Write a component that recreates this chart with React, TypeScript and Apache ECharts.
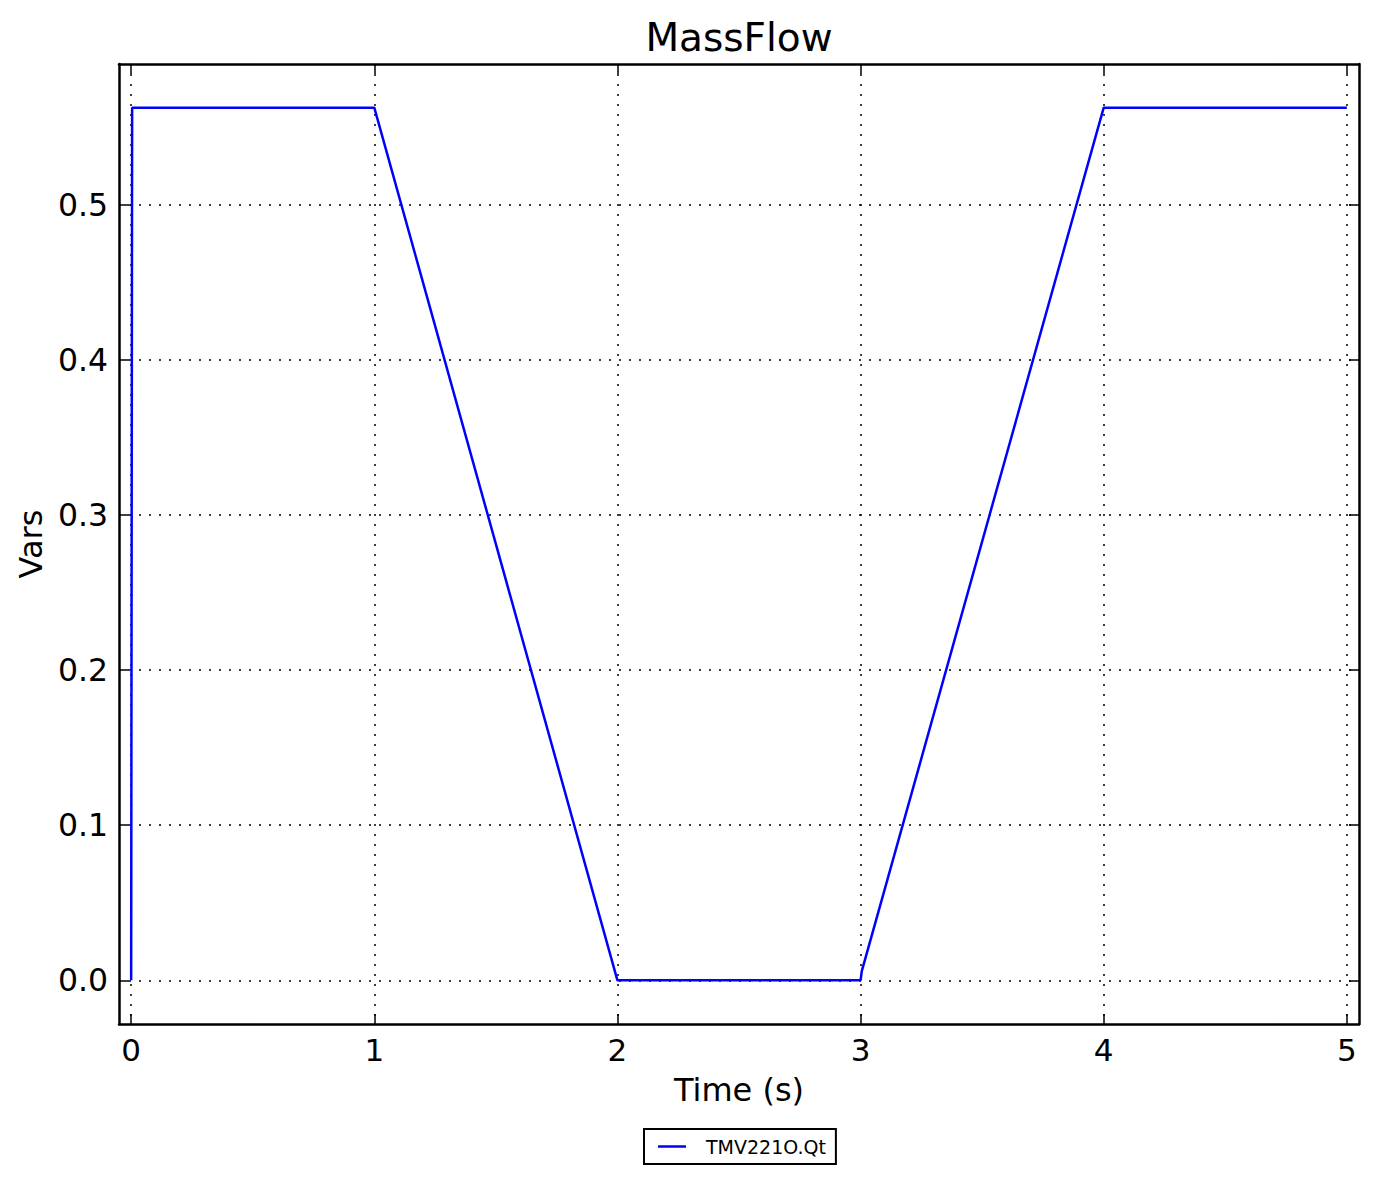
import React, { useEffect, useRef } from "react";
import * as echarts from "echarts";

const titleText = "MassFlow";
const xAxisName = "Time (s)";
const yAxisName = "Vars";
const seriesName = "TMV221O.Qt";

const timeValues = [0, 0.004, 1.0, 2.0, 3.0, 3.005, 4.0, 5.0];
const massFlowValues = [0, 0.5625, 0.5625, 0, 0, 0.006, 0.5625, 0.5625];

const xTicks = [0, 1, 2, 3, 4, 5];
const yTicks = [0, 0.1, 0.2, 0.3, 0.4, 0.5];

const X_MIN = -0.05;
const X_MAX = 5.05;
const Y_MIN = -0.028125;
const Y_MAX = 0.590625;

const FONT = "DejaVu Sans";

export default function App() {
  const ref = useRef<HTMLDivElement>(null);

  useEffect(() => {
    if (!ref.current) return;
    const chart = echarts.init(ref.current, undefined, { renderer: "svg" });

    const frameLine = { show: true, onZero: false, lineStyle: { color: "#000", width: 2.5 } };
    const tickIn = { show: true, inside: true, length: 10, lineStyle: { color: "#000", width: 1.5 } };
    const dotted = { show: true, lineStyle: { color: "#000", width: 1.5, type: [2, 8] as any } };

    const option: any = {
      animation: false,
      backgroundColor: "#fff",
      title: {
        text: titleText,
        left: 739,
        textAlign: "center",
        top: 18,
        padding: 0,
        textStyle: { fontFamily: FONT, fontSize: 39, fontWeight: "normal", color: "#000" },
      },
      legend: {
        data: [seriesName],
        left: 644,
        top: 1129,
        orient: "horizontal",
        padding: [8, 10, 8, 14],
        borderColor: "#000",
        borderWidth: 2,
        icon: "rect",
        itemWidth: 28,
        itemHeight: 2.5,
        textStyle: { fontFamily: FONT, fontSize: 19, color: "#000", padding: [0, 0, 0, 15] },
      },
      grid: {
        left: 119,
        top: 64,
        right: 20,
        bottom: 159,
        containLabel: false,
        outerBoundsMode: "none",
      },
      xAxis: [
        {
          type: "value",
          min: X_MIN,
          max: X_MAX,
          position: "bottom",
          name: xAxisName,
          nameLocation: "middle",
          nameGap: 50,
          nameTextStyle: { fontFamily: FONT, fontSize: 32, color: "#000" },
          axisLine: frameLine,
          axisTick: { ...tickIn, customValues: xTicks },
          axisLabel: {
            customValues: xTicks,
            margin: 10,
            fontFamily: FONT,
            fontSize: 31,
            color: "#000",
            formatter: (v: number) => String(v),
          },
          splitLine: dotted,
        },
        {
          type: "value",
          min: X_MIN,
          max: X_MAX,
          position: "top",
          axisLine: frameLine,
          axisTick: { ...tickIn, customValues: xTicks },
          axisLabel: { show: false },
          splitLine: { show: false },
        },
      ],
      yAxis: [
        {
          type: "value",
          min: Y_MIN,
          max: Y_MAX,
          position: "left",
          name: yAxisName,
          nameLocation: "middle",
          nameRotate: 90,
          nameGap: 71,
          nameTextStyle: { fontFamily: FONT, fontSize: 32, color: "#000" },
          axisLine: frameLine,
          axisTick: { ...tickIn, customValues: yTicks },
          axisLabel: {
            customValues: yTicks,
            margin: 11,
            fontFamily: FONT,
            fontSize: 31.5,
            color: "#000",
            formatter: (v: number) => v.toFixed(1),
          },
          splitLine: dotted,
        },
        {
          type: "value",
          min: Y_MIN,
          max: Y_MAX,
          position: "right",
          axisLine: frameLine,
          axisTick: { ...tickIn, customValues: yTicks },
          axisLabel: { show: false },
          splitLine: { show: false },
        },
      ],
      series: [
        {
          name: seriesName,
          type: "line",
          xAxisIndex: 0,
          yAxisIndex: 0,
          data: timeValues.map((t, i) => [t, massFlowValues[i]]),
          symbol: "none",
          showSymbol: false,
          lineStyle: { color: "#0000ff", width: 2.5 },
          itemStyle: { color: "#0000ff" },
          z: 3,
        },
      ],
    };

    chart.setOption(option);
    return () => chart.dispose();
  }, []);

  return (
    <div
      ref={ref}
      style={{ position: "absolute", left: 0, top: 0, width: 1379, height: 1183 }}
    />
  );
}
